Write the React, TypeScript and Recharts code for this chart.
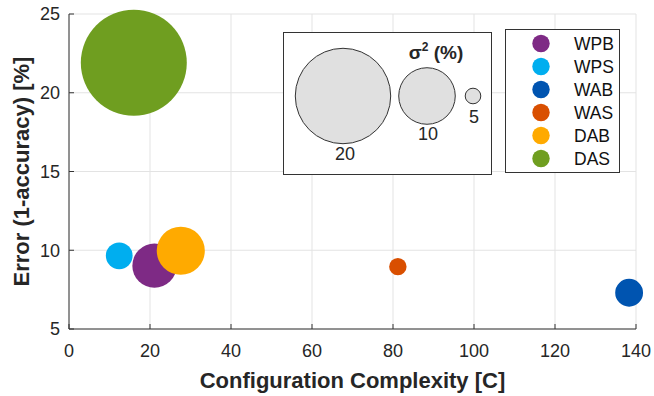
import {
  ScatterChart,
  Scatter,
  XAxis,
  YAxis,
  ZAxis,
  CartesianGrid,
  Label,
} from "recharts";

// values
const methods = ["WPB", "WPS", "WAB", "WAS", "DAB", "DAS"];
const complexity = [21.1, 12.4, 138.3, 81.2, 27.6, 16.0];
const errorRate = [9.02, 9.65, 7.3, 8.96, 9.97, 21.9];
const variance = [7.9, 5.8, 5.9, 5.1, 8.5, 23.6];

const xTicks = [0, 20, 40, 60, 80, 100, 120, 140];
const yTicks = [5, 10, 15, 20, 25];
const varianceKey = [20, 10, 5];

const colors: Record<string, string> = {
  WPB: "#7E2A85",
  WPS: "#00AEEF",
  WAB: "#0054B0",
  WAS: "#D94F00",
  DAB: "#FFAA00",
  DAS: "#6F9E20",
};

// bubble area = linear in sigma^2
const sizeDomain = [0, 30];
const sizeRange = [-2128, 11789];
const bubbleRadius = (v: number) => {
  const area =
    sizeRange[0] +
    ((v - sizeDomain[0]) / (sizeDomain[1] - sizeDomain[0])) *
      (sizeRange[1] - sizeRange[0]);
  return Math.sqrt(Math.max(area, 0) / Math.PI);
};

const font = "'Liberation Sans', Arial, Helvetica, sans-serif";
const ink = "#262626";

const points = methods.map((m, i) => ({
  name: m,
  x: complexity[i],
  y: errorRate[i],
  v: variance[i],
}));

function VarianceInset() {
  const centers = [343, 427, 473];
  const labelY = [160, 140, 123];
  return (
    <g>
      <rect x={283.5} y={32.5} width={208} height={142} fill="#fff" stroke="#333" />
      {varianceKey.map((v, i) => (
        <g key={v}>
          <circle
            cx={centers[i]}
            cy={96}
            r={bubbleRadius(v)}
            fill="#E0E0E0"
            stroke="#333"
            strokeWidth={1}
          />
          <text
            x={centers[i] + (i === 0 ? 2 : 1)}
            y={labelY[i]}
            textAnchor="middle"
            fontSize={18}
            fill={ink}
          >
            {v}
          </text>
        </g>
      ))}
      <text x={436} y={59} textAnchor="middle" fontSize={19} fontWeight="bold" fill={ink}>
        σ<tspan fontSize={12} dy={-8}>2</tspan>
        <tspan dy={8}> (%)</tspan>
      </text>
    </g>
  );
}

function MethodLegend() {
  return (
    <g>
      <rect x={505.5} y={29.5} width={114} height={143} fill="#fff" stroke="#333" />
      {methods.map((m, i) => (
        <g key={m}>
          <circle cx={541} cy={43.5 + i * 23} r={8.7} fill={colors[m]} />
          <text x={574} y={50 + i * 23} fontSize={17.5} fill="#111">
            {m}
          </text>
        </g>
      ))}
    </g>
  );
}

export default function App() {
  return (
    <div style={{ position: "absolute", left: 0, top: 0, width: 654, height: 396, background: "#fff" }}>
      <ScatterChart
        width={654}
        height={396}
        margin={{ top: 14, right: 18, bottom: 0, left: 0 }}
        style={{ fontFamily: font }}
      >
        <CartesianGrid stroke="#E3E3E3" strokeWidth={1} />
        <XAxis
          type="number"
          dataKey="x"
          domain={[0, 140]}
          ticks={xTicks}
          height={67}
          tickSize={-5}
          tickMargin={20}
          stroke="#333"
          tick={{ fill: ink, fontSize: 18, fontFamily: font }}
        >
          <Label
            value="Configuration Complexity [C]"
            position="insideBottom"
            offset={8}
            style={{ fontSize: 22, fontWeight: "bold", fill: ink, fontFamily: font }}
          />
        </XAxis>
        <YAxis
          type="number"
          dataKey="y"
          domain={[5, 25]}
          ticks={yTicks}
          width={69}
          tickSize={-5}
          tickMargin={14}
          stroke="#333"
          tick={{ fill: ink, fontSize: 18, fontFamily: font }}
        >
          <Label
            content={() => (
              <text
                transform="translate(29,171.5) rotate(-90)"
                textAnchor="middle"
                fontSize={22}
                fontWeight="bold"
                fill={ink}
                fontFamily={font}
              >
                Error (1-accuracy) [%]
              </text>
            )}
          />
        </YAxis>
        <ZAxis type="number" dataKey="v" domain={sizeDomain} range={sizeRange} />
        {points.map((p) => (
          <Scatter
            key={p.name}
            name={p.name}
            data={[p]}
            fill={colors[p.name]}
            isAnimationActive={false}
          />
        ))}
      </ScatterChart>
      <svg
        width={654}
        height={396}
        style={{ position: "absolute", left: 0, top: 0, fontFamily: font }}
      >
        <VarianceInset />
        <MethodLegend />
      </svg>
    </div>
  );
}
